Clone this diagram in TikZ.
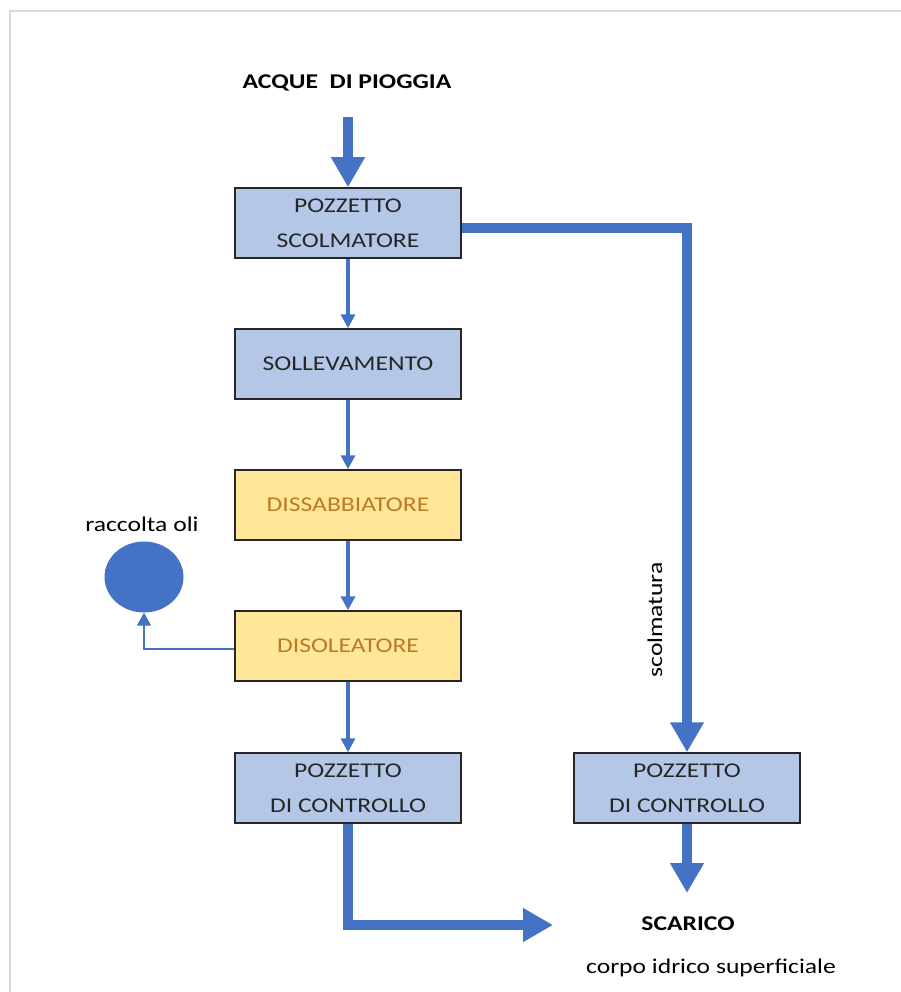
\documentclass[tikz,border=0pt]{standalone}
\usepackage{fontspec}
\setmainfont{Carlito}[FakeStretch=1.22]
\usetikzlibrary{arrows.meta,positioning,shapes.geometric}
\definecolor{myblue}{HTML}{4472C4}
\definecolor{boxblue}{HTML}{B4C7E7}
\definecolor{boxyellow}{HTML}{FFE699}
\definecolor{textgold}{HTML}{BC7A22}
\definecolor{framegrey}{HTML}{D9D9D9}

\begin{document}
\begin{tikzpicture}[x=1pt,y=-1pt,
    every node/.style={font=\fontsize{21}{35}\selectfont},
    stage/.style={draw=black!85,line width=1.5pt,minimum width=226pt,minimum height=70pt,
      inner sep=0pt,align=center,text=black!85},
    bluestage/.style={stage,fill=boxblue},
    yellowstage/.style={stage,fill=boxyellow,text=textgold},
    bigflow/.style={myblue,line width=10pt,-{Triangle[length=30pt,width=32pt]}},
    smallflow/.style={myblue,line width=4pt,-{Triangle[length=14pt,width=14pt]}},
    oilflow/.style={myblue,line width=1.5pt,-{Triangle[length=13pt,width=14pt]}}]
    \useasboundingbox (0,0) rectangle (901,992);
    \draw[framegrey,line width=2pt] (901,11) -- (10,11) -- (10,992);% sheet edge

    \coordinate (RainIn)  at (348,117);
    \coordinate (Outlet)  at (553,925);
    \coordinate (DropEnd) at (687,893);

    \node[font=\fontsize{21}{25}\bfseries\selectfont] (pioggia) at (347,83) {ACQUE\ \ DI PIOGGIA};

    % main treatment line
    \node[bluestage]   (scolmatore)    at (348,223) {POZZETTO\\SCOLMATORE};
    \node[bluestage]   (sollevamento)  at (348,364) {SOLLEVAMENTO};
    \node[yellowstage] (dissabbiatore) at (348,505) {DISSABBIATORE};
    \node[yellowstage] (disoleatore)   at (348,646) {DISOLEATORE};
    \node[bluestage]   (controlloA)    at (348,788) {POZZETTO\\DI CONTROLLO};
    \node[bluestage]   (controlloB)    at (687,788) {POZZETTO\\DI CONTROLLO};

    \node[ellipse,fill=myblue,minimum width=79pt,minimum height=71pt,inner sep=0pt] (oli) at (144,577) {};
    \node (olilabel) at (142,524) {raccolta oli};

    \node[font=\fontsize{21}{25}\bfseries\selectfont] (scarico) at (688,924) {SCARICO};
    \node (corpo) at (711,968) {corpo idrico superficiale};

    \draw[bigflow] (RainIn) -- (scolmatore);
    \foreach \a/\b in {scolmatore/sollevamento,sollevamento/dissabbiatore,
      dissabbiatore/disoleatore,disoleatore/controlloA}{%
      \draw[smallflow] (\a) -- (\b);% one step down
    }
    \draw[oilflow] ([yshift=-3pt]disoleatore.west) -| (oli.south);

    % overflow branch
    \draw[bigflow] ([yshift=-5pt]scolmatore.east) -| (controlloB.north);
    \node[rotate=90] (scolmatura) at (655,620) {scolmatura};
    \draw[bigflow] (controlloB) -- (DropEnd);
    \draw[bigflow] (controlloA) |- (Outlet);
\end{tikzpicture}
\end{document}
